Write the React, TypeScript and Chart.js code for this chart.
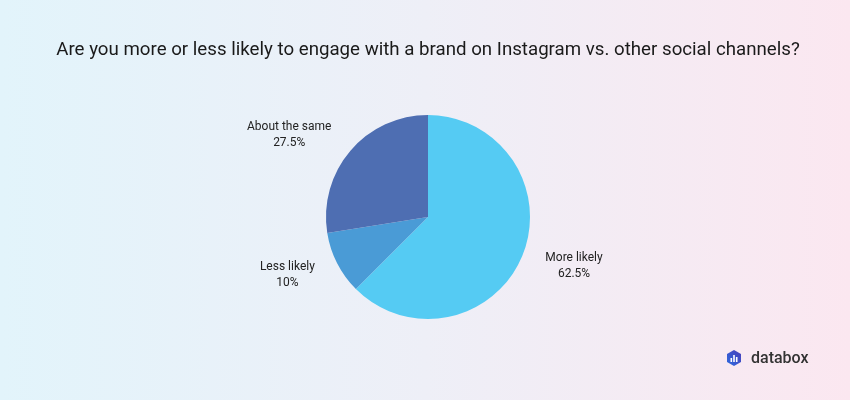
import React, { useEffect, useRef } from "react";
import { Chart, registerables } from "chart.js";

Chart.register(...registerables);

const categories = ["More likely", "Less likely", "About the same"];
const values = [62.5, 10, 27.5];
const valueLabels = ["62.5%", "10%", "27.5%"];
const colors = ["#55CBF3", "#4A9BD6", "#4E6EB2"];
const titleText = "Are you more or less likely to engage with a brand on Instagram vs. other social channels?";

const outsideLabels = {
  id: "outsideLabels",
  afterDatasetsDraw(chart: any) {
    const ctx = chart.ctx;
    const meta = chart.getDatasetMeta(0);
    ctx.save();
    ctx.font = "12px Roboto";
    ctx.fillStyle = "#222";
    ctx.textAlign = "center";
    ctx.textBaseline = "middle";
    meta.data.forEach((arc: any, i: number) => {
      const { x, y, startAngle, endAngle, outerRadius } = arc.getProps(["x", "y", "startAngle", "endAngle", "outerRadius"], true);
      const mid = (startAngle + endAngle) / 2;
      const r = outerRadius + 25;
      const ax = x + Math.cos(mid) * r;
      const ay = y + Math.sin(mid) * r;
      const l1 = categories[i];
      const l2 = valueLabels[i];
      const w = Math.max(ctx.measureText(l1).width, ctx.measureText(l2).width);
      const cx = ax + (Math.cos(mid) >= 0 ? 1 : -1) * w / 2;
      ctx.fillText(l1, cx, ay - 8);
      ctx.fillText(l2, cx, ay + 8);
    });
    ctx.restore();
  },
};

function Logo() {
  return (
    <div style={{ position: "absolute", left: 727, top: 349, display: "flex", alignItems: "center" }}>
      <svg width="14" height="18" viewBox="0 0 14 16">
        <defs>
          <linearGradient id="lg" x1="0" y1="1" x2="1" y2="0">
            <stop offset="0" stopColor="#2D6BE0" />
            <stop offset="1" stopColor="#4A3FB8" />
          </linearGradient>
        </defs>
        <polygon points="7,0 14,4 14,12 7,16 0,12 0,4" fill="url(#lg)" />
        <rect x="3.5" y="8" width="1.6" height="4" fill="#fff" />
        <rect x="6.2" y="5" width="1.6" height="7" fill="#fff" />
        <rect x="8.9" y="7" width="1.6" height="5" fill="#fff" />
      </svg>
      <span style={{ marginLeft: 10, fontFamily: "Roboto", fontWeight: 500, fontSize: 16, color: "#333", lineHeight: "18px" }}>databox</span>
    </div>
  );
}

export default function App() {
  const ref = useRef<HTMLCanvasElement>(null);
  useEffect(() => {
    document.body.style.margin = "0";
    const chart = new Chart(ref.current!, {
      type: "pie",
      data: {
        labels: categories,
        datasets: [{ data: values, backgroundColor: colors, borderWidth: 0 }],
      },
      options: {
        animation: false,
        responsive: false,
        layout: { padding: { left: 6, right: 0, top: 0, bottom: 81 } },
        plugins: {
          legend: { display: false },
          tooltip: { enabled: false },
          title: {
            display: true,
            text: titleText,
            color: "#1a1a1a",
            font: { family: "Roboto", size: 18.7, weight: "normal", lineHeight: 1.2 },
            padding: { top: 39.3, bottom: 53.26 },
          },
        },
      },
      plugins: [outsideLabels],
    });
    return () => chart.destroy();
  }, []);
  return (
    <div style={{ position: "fixed", left: 0, top: 0, width: 850, height: 400, background: "linear-gradient(90deg, #E2F4FB 0%, #EEEFF7 50%, #FBE7F0 100%)" }}>
      <canvas ref={ref} width={850} height={400} />
      <Logo />
    </div>
  );
}
